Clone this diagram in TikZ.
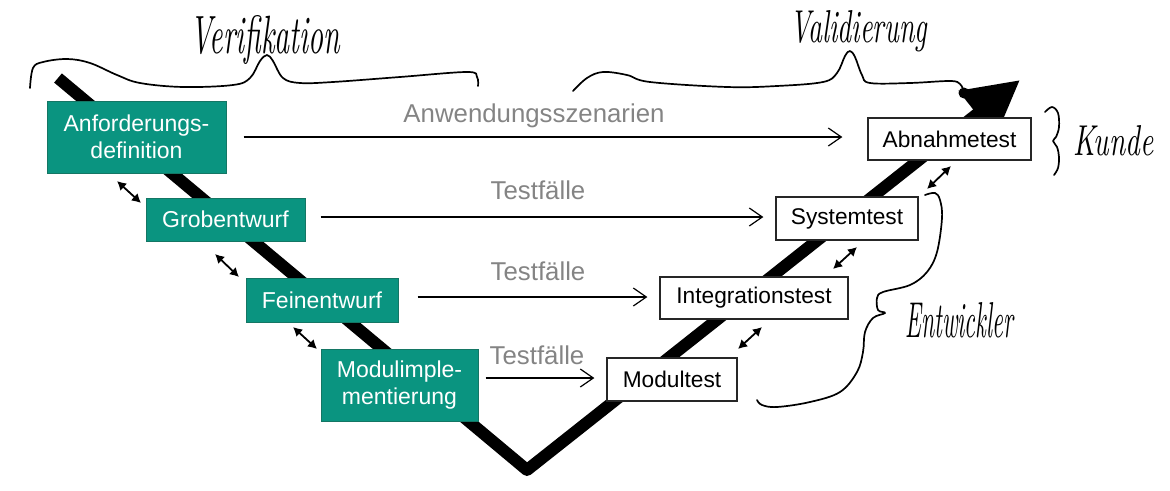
\documentclass[tikz,border=0pt]{standalone}
\usepackage{fontspec}
\usetikzlibrary{arrows.meta}
\newfontfamily\arialf{Liberation Sans}
\definecolor{tgreen}{RGB}{10,148,128}
\definecolor{tgreendark}{RGB}{20,118,100}
\definecolor{lblgray}{RGB}{132,132,132}
\begin{document}
\begin{tikzpicture}[x=1pt,y=-1pt,
  greenbox/.style={draw=tgreendark,fill=tgreen,line width=1pt,text=white,
    font=\arialf\fontsize{23}{27}\selectfont,align=center,inner sep=0pt},
  whitebox/.style={draw=black!85,fill=white,line width=1.3pt,text=black,
    font=\arialf\fontsize{22.7}{27}\selectfont,align=center,inner sep=0pt},
  lbl/.style={text=lblgray,font=\arialf\fontsize{25.8}{30}\selectfont,inner sep=0pt},
  harrow/.style={line width=1.2pt,-{Straight Barb[length=13pt,width=18pt]}},
  darrow/.style={line width=1.8pt,{Latex[length=9pt,width=10pt]}-{Latex[length=9pt,width=10pt]}},
  vline/.style={line width=12pt,line join=round,-{Triangle[length=55pt,width=56pt]}},
  hand/.style={line width=1.7pt,line cap=round,line join=round},
  handtext/.style={inner sep=0pt,anchor=base west,font=\rmfamily\itshape}
]
\useasboundingbox (0,0) rectangle (1170,490);

% V shaped process line
\coordinate (vtop) at (58,78);
\coordinate (vbot) at (527,470);
\coordinate (vtip) at (1020,80);
\draw[vline] (vtop) -- (vbot) -- (vtip);

% left (green) boxes
\node[greenbox,minimum width=179pt,minimum height=72pt] (A) at (136.5,137) {Anforderungs-\\definition};
\node[greenbox,minimum width=159pt,minimum height=43pt] (G) at (225.5,219.5) {Grobentwurf};
\node[greenbox,minimum width=152pt,minimum height=44pt] (F) at (322,300) {Feinentwurf};
\node[greenbox,minimum width=157pt,minimum height=72pt] (M) at (399.5,385) {Modulimple-\\mentierung};

% right (white) boxes
\node[whitebox,minimum width=163pt,minimum height=42pt] (Ab) at (949.5,139) {Abnahmetest};
\node[whitebox,minimum width=142pt,minimum height=43pt] (S) at (847,218.5) {Systemtest};
\node[whitebox,minimum width=188pt,minimum height=42pt] (I) at (754,298) {Integrationstest};
\node[whitebox,minimum width=130pt,minimum height=43pt] (Mt) at (672,379.5) {Modultest};

% horizontal arrows
\draw[harrow] ([xshift=17pt]A.east) -- ([xshift=-25pt]A.east -| Ab.west);
\draw[harrow] ([xshift=15pt,yshift=2.5pt]G.east) -- ([xshift=-12pt,yshift=2.5pt]G.east -| S.west);
\draw[harrow] ([xshift=19pt,yshift=3pt]F.east) -- ([xshift=-12pt,yshift=3pt]F.east -| I.west);
\draw[harrow] ([xshift=7pt,yshift=7pt]M.east) -- ([xshift=-12pt,yshift=7pt]M.east -| Mt.west);

% labels
\node[lbl] (l1) at (534,116) {Anwendungsszenarien};
\node[lbl] (l2) at (538,190) {Testfälle};
\node[lbl] (l3) at (538,271) {Testfälle};
\node[lbl] (l4) at (537,355) {Testfälle};

% double arrows left
\coordinate (dl1a) at (117,181); \coordinate (dl1b) at (141,203);
\coordinate (dl2a) at (215,254); \coordinate (dl2b) at (239,277);
\coordinate (dl3a) at (293,327); \coordinate (dl3b) at (317,349);
\draw[darrow] (dl1a) -- (dl1b);
\draw[darrow] (dl2a) -- (dl2b);
\draw[darrow] (dl3a) -- (dl3b);
% double arrows right
\coordinate (dr1a) at (927,189); \coordinate (dr1b) at (951,166);
\coordinate (dr2a) at (833,269); \coordinate (dr2b) at (857,247);
\coordinate (dr3a) at (738,349); \coordinate (dr3b) at (762,327);
\draw[darrow] (dr1a) -- (dr1b);
\draw[darrow] (dr2a) -- (dr2b);
\draw[darrow] (dr3a) -- (dr3b);

% handwritten braces
\draw[hand] plot[smooth,tension=0.6] coordinates {(30,88) (33,68) (43,62) (67,59) (90,63) (117,75) (140,83) (183,87) (233,85) (250,78) (260,61) (267,55) (273,61) (283,78) (300,83) (333,82) (400,77) (467,72) (477,77) (478,86)};
\draw[hand] plot[smooth,tension=0.6] coordinates {(573,91) (587,78) (603,72) (627,75) (650,82) (727,87) (777,86) (823,82) (837,73) (845,56) (850,51) (855,57) (862,75) (870,83) (910,83) (950,81) (960,84) (964,92)};
\fill (964,93) circle (5.5pt);
\draw[hand] plot[smooth,tension=0.6] coordinates {(1045,112) (1052,107) (1058,113) (1059,127) (1056,137) (1053,141) (1057,147) (1059,157) (1058,168) (1054,175)};
\draw[hand] plot[smooth,tension=0.6] coordinates {(925,195) (935,193) (940,200) (942,218) (937,252) (927,272) (910,285) (883,292) (877,298) (878,310) (885,313) (873,318) (865,332) (863,352) (857,372) (840,392) (810,402) (777,407) (762,405) (757,400)};

% handwritten texts
\node[handtext] (tverif) at (190,53) {\resizebox{150pt}{38pt}{Verifikation}};
\node[handtext] (tvalid) at (790,42) {\resizebox{137pt}{32pt}{Validierung}};
\node[handtext] (tkunde) at (1073,155) {\resizebox{80pt}{30pt}{Kunde}};
\node[handtext] (tentw) at (905,337) {\resizebox{108pt}{35pt}{Entwickler}};
\end{tikzpicture}
\end{document}
